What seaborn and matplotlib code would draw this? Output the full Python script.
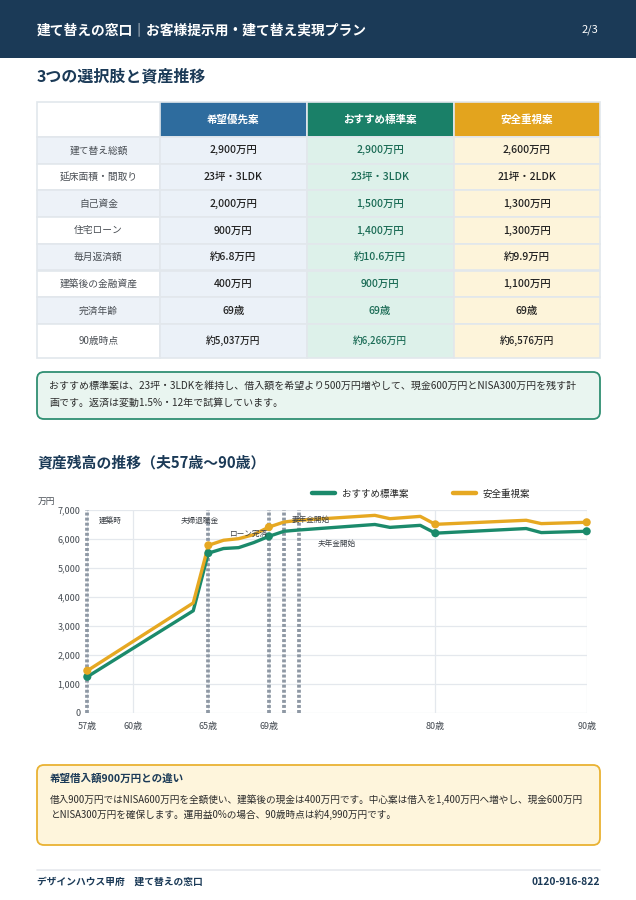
import matplotlib
matplotlib.use("Agg")
import matplotlib.pyplot as plt
from matplotlib.patches import Rectangle, FancyBboxPatch
from matplotlib.lines import Line2D
import seaborn as sns
import pandas as pd

# ---------------- data ----------------
header_title = "建て替えの窓口｜お客様提示用・建て替え実現プラン"
page_no = "2/3"
section1 = "3つの選択肢と資産推移"
section2 = "資産残高の推移（夫57歳〜90歳）"

plans = ["希望優先案", "おすすめ標準案", "安全重視案"]
row_labels = ["建て替え総額", "延床面積・間取り", "自己資金", "住宅ローン",
              "毎月返済額", "建築後の金融資産", "完済年齢", "90歳時点"]
plan_a_vals = ["2,900万円", "23坪・3LDK", "2,000万円", "900万円",
               "約6.8万円", "400万円", "69歳", "約5,037万円"]
plan_b_vals = ["2,900万円", "23坪・3LDK", "1,500万円", "1,400万円",
               "約10.6万円", "900万円", "69歳", "約6,266万円"]
plan_c_vals = ["2,600万円", "21坪・2LDK", "1,300万円", "1,300万円",
               "約9.9万円", "1,100万円", "69歳", "約6,576万円"]

note1_lines = ["おすすめ標準案は、23坪・3LDKを維持し、借入額を希望より500万円増やして、現金600万円とNISA300万円を残す計",
               "画です。返済は変動1.5%・12年で試算しています。"]

ages = [57, 64, 65, 66, 67, 68, 69, 70, 71, 76, 77, 79, 80, 86, 87, 90]
standard_vals = [1240, 3520, 5510, 5670, 5700, 5875, 6090, 6265, 6310,
                 6500, 6400, 6470, 6200, 6360, 6220, 6266]
safe_vals = [1450, 3790, 5780, 5955, 6010, 6150, 6410, 6585, 6645,
             6815, 6700, 6780, 6505, 6645, 6530, 6576]
marker_ages = [57, 65, 69, 80, 90]
series_names = ["おすすめ標準案", "安全重視案"]

x_ticks = [57, 60, 65, 69, 80, 90]
x_tick_labels = ["57歳", "60歳", "65歳", "69歳", "80歳", "90歳"]
y_ticks = [0, 1000, 2000, 3000, 4000, 5000, 6000, 7000]
y_unit = "万円"

event_ages = [57, 65, 69, 70, 71]
event_labels = ["建築時", "夫婦退職金", "ローン完済", "妻年金開始", "夫年金開始"]

note2_title = "希望借入額900万円との違い"
note2_lines = ["借入900万円ではNISA600万円を全額使い、建築後の現金は400万円です。中心案は借入を1,400万円へ増やし、現金600万円",
               "とNISA300万円を確保します。運用益0%の場合、90歳時点は約4,990万円です。"]
footer_left = "デザインハウス甲府　建て替えの窓口"
footer_right = "0120-916-822"

# ---------------- style ----------------
sns.set_theme(style="white")
plt.rcParams["font.family"] = ["Noto Sans CJK JP", "DejaVu Sans"]

NAVY = "#1b3a57"
BLUE = "#2e6c9e"
GREEN = "#1a8068"
GREEN_LINE = "#1b8a6b"
ORANGE = "#e3a41e"
ORANGE_LINE = "#e6a822"
TXT = "#2b2b2b"
GRAY = "#4a4f55"

fig = plt.figure(figsize=(6.36, 9.0), dpi=100)
fig.patch.set_facecolor("white")

ov = fig.add_axes([0, 0, 1, 1], zorder=0)
ov.set_xlim(0, 636)
ov.set_ylim(900, 0)
ov.axis("off")

# header band
ov.add_patch(Rectangle((0, 0), 636, 58, color=NAVY, lw=0))
ov.text(37, 30, header_title, color="white", fontsize=9.9, fontweight="bold", va="center", ha="left")
ov.text(598, 30, page_no, color="white", fontsize=8, va="center", ha="right")

ov.text(37, 76, section1, color=NAVY, fontsize=11.5, fontweight="bold", va="center", ha="left")

# table
col_x = [37, 160, 306.5, 453.5, 600]
row_y = [102, 137, 163.7, 190.4, 217.1, 243.8, 270.5, 297.2, 323.9, 358]
head_colors = [BLUE, GREEN, ORANGE]
body_colors = ["#ebf1f8", "#ddf1ea", "#fdf4da"]
body_text_colors = ["#222222", "#1a6b55", "#222222"]
border = "#e2e7ec"
all_vals = [plan_a_vals, plan_b_vals, plan_c_vals]

ov.add_patch(Rectangle((col_x[0], row_y[0]), col_x[1] - col_x[0], row_y[1] - row_y[0],
                       facecolor="white", edgecolor=border, lw=1.2))
for j in range(3):
    ov.add_patch(Rectangle((col_x[j + 1], row_y[0]), col_x[j + 2] - col_x[j + 1], row_y[1] - row_y[0],
                           facecolor=head_colors[j], edgecolor=border, lw=1.2))
    ov.text((col_x[j + 1] + col_x[j + 2]) / 2, (row_y[0] + row_y[1]) / 2, plans[j],
            color="white", fontsize=7.6, fontweight="bold", ha="center", va="center")

for i, lab in enumerate(row_labels):
    y0, y1 = row_y[i + 1], row_y[i + 2]
    lab_bg = "#edf2f8" if i % 2 == 0 else "white"
    ov.add_patch(Rectangle((col_x[0], y0), col_x[1] - col_x[0], y1 - y0,
                           facecolor=lab_bg, edgecolor=border, lw=1.2))
    ov.text((col_x[0] + col_x[1]) / 2, (y0 + y1) / 2, lab, color=GRAY, fontsize=7.0,
            ha="center", va="center")
    for j in range(3):
        ov.add_patch(Rectangle((col_x[j + 1], y0), col_x[j + 2] - col_x[j + 1], y1 - y0,
                               facecolor=body_colors[j], edgecolor=border, lw=1.2))
        fs = 7.0 if i == len(row_labels) - 1 else 7.5
        ov.text((col_x[j + 1] + col_x[j + 2]) / 2, (y0 + y1) / 2, all_vals[j][i],
                color=body_text_colors[j], fontsize=fs, fontweight="medium",
                ha="center", va="center")

# green note box
ov.add_patch(FancyBboxPatch((37, 372), 563, 47, boxstyle="round,pad=0,rounding_size=7",
                            facecolor="#e9f5f0", edgecolor="#2f8f72", lw=1.3))
ov.text(49, 386, note1_lines[0], color=TXT, fontsize=7.2, ha="left", va="center")
ov.text(49, 403, note1_lines[1], color=TXT, fontsize=7.2, ha="left", va="center")

ov.text(37, 462, section2, color=NAVY, fontsize=10.7, fontweight="bold", va="center", ha="left")

# yellow note box
ov.add_patch(FancyBboxPatch((37, 765), 563, 80, boxstyle="round,pad=0,rounding_size=7",
                            facecolor="#fef5dc", edgecolor="#e9b233", lw=1.3))
ov.text(50, 779, note2_title, color=NAVY, fontsize=7.6, fontweight="bold", ha="left", va="center")
ov.text(50, 800, note2_lines[0], color=TXT, fontsize=6.95, ha="left", va="center")
ov.text(50, 815, note2_lines[1], color=TXT, fontsize=6.95, ha="left", va="center")

# footer
ov.plot([37, 600], [870, 870], color="#e6e9ed", lw=1.2)
ov.text(37, 882, footer_left, color=NAVY, fontsize=7.0, fontweight="bold", ha="left", va="center")
ov.text(600, 882, footer_right, color=NAVY, fontsize=7.4, fontweight="bold", ha="right", va="center")

# ---------------- chart ----------------
ax = fig.add_axes([87.3 / 636, 1 - 712.7 / 900, (586.7 - 87.3) / 636, 202.7 / 900], zorder=2)
ax.patch.set_alpha(0)

df = pd.DataFrame({
    "age": ages * 2,
    "value": standard_vals + safe_vals,
    "plan": [series_names[0]] * len(ages) + [series_names[1]] * len(ages),
})
palette = {series_names[0]: GREEN_LINE, series_names[1]: ORANGE_LINE}

for a in event_ages:
    ax.axvline(a, color="#8e98a4", lw=2.7, linestyle=(0, (0.8, 0.55)), zorder=1.5,
               clip_on=False)

sns.lineplot(data=df, x="age", y="value", hue="plan", hue_order=series_names,
             palette=palette, linewidth=2.4, legend=False, ax=ax, zorder=3)
sns.scatterplot(data=df[df["age"].isin(marker_ages)], x="age", y="value", hue="plan",
                hue_order=series_names, palette=palette, s=34, edgecolor="none",
                legend=False, ax=ax, zorder=4, clip_on=False)

ax.set_xlim(57, 90)
ax.set_ylim(0, 7000)
ax.set_xticks(x_ticks)
ax.set_xticklabels(x_tick_labels)
ax.set_yticks(y_ticks)
ax.set_yticklabels([f"{v:,}" for v in y_ticks])
ax.grid(True, color="#e4e8ed", lw=0.9, zorder=0)
ax.set_axisbelow(True)
for s in ax.spines.values():
    s.set_visible(False)
ax.tick_params(axis="both", length=0, labelsize=6.5, labelcolor="#454b52")
ax.tick_params(axis="y", pad=5)
ax.tick_params(axis="x", pad=7)
ax.set_xlabel("")
ax.set_ylabel("")

ann = [(57.75, 6610, "left"), (64.45, 6610, "center"), (68.95, 6190, "right"),
       (70.5, 6645, "left"), (72.2, 5840, "left")]
for (x, y, ha), lab in zip(ann, event_labels):
    ax.text(x, y, lab, fontsize=5.5, color="#3a3f45", ha=ha, va="center", zorder=5)

ov.text(38, 501, y_unit, fontsize=6.3, color="#454b52", ha="left", va="center")

handles = [Line2D([0], [0], color=palette[n], lw=3.2) for n in series_names]
fig.legend(handles, series_names, loc="center", bbox_to_anchor=(421 / 636, 1 - 494 / 900),
           ncol=2, frameon=False, fontsize=6.8, handlelength=2.5, columnspacing=4.7,
           handletextpad=0.7)

fig.savefig("out.png", dpi=100, facecolor="white")
